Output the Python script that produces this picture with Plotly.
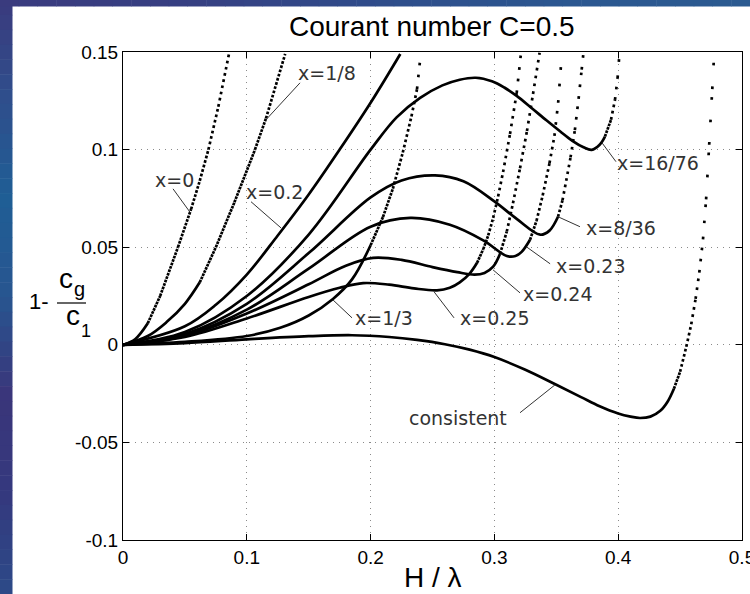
import math
import plotly.graph_objects as go

# ---------------- data ----------------
x_ticks = [0, 0.1, 0.2, 0.3, 0.4, 0.5]
x_tick_text = ["0", "0.1", "0.2", "0.3", "0.4", "0.5"]
y_ticks = [-0.1, -0.05, 0, 0.05, 0.1, 0.15]
y_tick_text = ["-0.1", "-0.05", "0", "0.05", "0.1", "0.15"]

x0_h = [0, 0.01, 0.02, 0.03, 0.0444, 0.055, 0.062, 0.069, 0.077, 0.0856]
x0_v = [0, 0.003, 0.011, 0.025, 0.05, 0.0695, 0.084, 0.10, 0.122, 0.149]

x18_h = [0, 0.02, 0.035, 0.05, 0.062, 0.075, 0.09, 0.1066, 0.1155, 0.131]
x18_v = [0, 0.0045, 0.0115, 0.021, 0.032, 0.05, 0.073, 0.10, 0.116, 0.149]

x02_h = [0, 0.05, 0.075, 0.1, 0.125, 0.15, 0.175, 0.2, 0.224]
x02_v = [0, 0.0095, 0.0205, 0.036, 0.056, 0.077, 0.100, 0.124, 0.149]

x1676_h = [0, 0.05, 0.1, 0.15, 0.2, 0.221, 0.24, 0.258, 0.272, 0.285, 0.298, 0.308,
           0.318, 0.33, 0.342, 0.353, 0.363, 0.372, 0.3786, 0.385, 0.3893, 0.3942,
           0.3974, 0.3995, 0.401]
x1676_v = [0, 0.0065, 0.025, 0.0565, 0.1, 0.1165, 0.1265, 0.1329, 0.1358, 0.1368,
           0.135, 0.1318, 0.1275, 0.1213, 0.115, 0.1094, 0.1045, 0.1012, 0.0999, 0.1025,
           0.1067, 0.1153, 0.1255, 0.1366, 0.149]

x836_h = [0, 0.05, 0.1, 0.15, 0.2, 0.225, 0.252, 0.275, 0.3, 0.318, 0.337, 0.3445,
          0.3514, 0.355, 0.358, 0.3615, 0.365, 0.368, 0.3705, 0.372]
x836_v = [0, 0.0055, 0.021, 0.047, 0.0755, 0.0842, 0.0868, 0.0838, 0.0735, 0.0645,
          0.0564, 0.0585, 0.0656, 0.074, 0.084, 0.096, 0.11, 0.126, 0.141, 0.15]

x023_h = [0, 0.05, 0.1, 0.15, 0.2, 0.232, 0.264, 0.291, 0.310, 0.317, 0.322, 0.3288,
          0.334, 0.339, 0.3445, 0.3485, 0.3515, 0.3545]
x023_v = [0, 0.005, 0.018, 0.039, 0.0605, 0.065, 0.0615, 0.0535, 0.0455, 0.0455, 0.0476,
          0.0538, 0.0635, 0.0765, 0.093, 0.107, 0.124, 0.149]

x024_h = [0, 0.05, 0.1, 0.15, 0.18, 0.202, 0.225, 0.25, 0.27, 0.284, 0.292, 0.299,
          0.3045, 0.31, 0.315, 0.3207, 0.3263, 0.3312, 0.3365]
x024_v = [0, 0.0045, 0.016, 0.031, 0.0405, 0.0445, 0.0435, 0.0398, 0.0372, 0.0359,
          0.0368, 0.040, 0.0465, 0.058, 0.0725, 0.0905, 0.1095, 0.1285, 0.1496]

x025_h = [0, 0.05, 0.1, 0.15, 0.175, 0.194, 0.215, 0.235, 0.2536, 0.264, 0.272, 0.280,
          0.286, 0.291, 0.295, 0.299, 0.303, 0.307, 0.3126, 0.318, 0.3215]
x025_v = [0, 0.004, 0.0135, 0.0245, 0.0292, 0.0316, 0.0308, 0.0289, 0.0279, 0.0292,
          0.032, 0.0365, 0.042, 0.049, 0.056, 0.065, 0.076, 0.0885, 0.108, 0.129, 0.1496]

x13_h = [0, 0.05, 0.1, 0.127, 0.15, 0.1696, 0.185, 0.2, 0.21, 0.218, 0.226, 0.233,
         0.2375, 0.2405]
x13_v = [0, 0.0015, 0.0045, 0.0087, 0.015, 0.0235, 0.0335, 0.051, 0.0655, 0.08, 0.0985,
         0.117, 0.131, 0.149]

cons_h = [0, 0.05, 0.1, 0.15, 0.185, 0.215, 0.2375, 0.26, 0.28, 0.3, 0.325, 0.35, 0.37,
          0.385, 0.4, 0.41, 0.4176, 0.426, 0.434, 0.44, 0.445, 0.45, 0.455, 0.459, 0.4625,
          0.4655, 0.4685, 0.471, 0.4735, 0.476, 0.4775]
cons_v = [0, 0.0009, 0.0028, 0.0044, 0.0049, 0.004, 0.0025, 0.0003, -0.0025, -0.0063,
          -0.0128, -0.0205, -0.0268, -0.0315, -0.0352, -0.0368, -0.0375, -0.0368, -0.0338,
          -0.029, -0.0225, -0.0138, -0.001, 0.0105, 0.0235, 0.037, 0.054, 0.0745, 0.1025,
          0.131, 0.149]

label_text = ["x=0", "x=1/8", "x=0.2", "x=1/3", "x=0.25", "x=0.24", "x=0.23",
              "x=8/36", "x=16/76", "consistent"]

# ---------------- layout geometry ----------------
W, H = 750, 594
L, R, T, B = 123, 742, 52, 540
XR = [0, 0.5]
YR = [-0.1, 0.15]
SX = (R - L) / (XR[1] - XR[0])
SY = (B - T) / (YR[1] - YR[0])


def pxx(p):
    return (p - L) / (R - L)


def pxy(p):
    return (B - p) / (B - T)


fig = go.Figure()

DX_PX = 1.25
DOT = 2.7
LW = 2.7


def add_curve(h, v):
    n = len(h)
    run_h, run_v = [h[0]], [v[0]]

    def flush():
        if len(run_h) > 1:
            fig.add_trace(go.Scatter(x=list(run_h), y=list(run_v), mode="lines",
                                     line=dict(color="black", width=LW, shape="spline",
                                               smoothing=1.0),
                                     hoverinfo="skip", showlegend=False))

    for i in range(n - 1):
        dxp = (h[i + 1] - h[i]) * SX
        dyp = (v[i + 1] - v[i]) * SY
        slope = abs(dyp / dxp) if dxp else 100
        period = DX_PX * math.sqrt(1 + slope * slope)
        if period <= 3.0:
            run_h.append(h[i + 1])
            run_v.append(v[i + 1])
        else:
            flush()
            run_h, run_v = [h[i + 1]], [v[i + 1]]
            gap = max(period - DOT, 0.8)
            fig.add_trace(go.Scatter(x=[h[i], h[i + 1]], y=[v[i], v[i + 1]], mode="lines",
                                     line=dict(color="black", width=LW,
                                               dash=f"{DOT}px,{gap:.2f}px"),
                                     hoverinfo="skip", showlegend=False))
    flush()


for hh, vv in [(cons_h, cons_v), (x13_h, x13_v), (x025_h, x025_v), (x024_h, x024_v),
               (x023_h, x023_v), (x836_h, x836_v), (x1676_h, x1676_v), (x02_h, x02_v),
               (x18_h, x18_v), (x0_h, x0_v)]:
    add_curve(hh, vv)

# ---------------- labels with leader lines ----------------
label_pos = [(174, 180), (327, 73), (274, 192), (384, 318), (494, 318), (557, 294),
             (590, 266), (621, 228), (658, 163), (458, 418)]
leaders = [((0.0404, 0.0799), (0.0545, 0.0676)),
           ((0.143, 0.1342), (0.1155, 0.1153)),
           ((0.1034, 0.0733), (0.1276, 0.0599)),
           ((0.185, 0.0138), (0.1696, 0.023)),
           ((0.2674, 0.0138), (0.2512, 0.0272)),
           ((0.3207, 0.0266), (0.2989, 0.0384)),
           ((0.345, 0.0415), (0.3263, 0.0500)),
           ((0.3691, 0.0605), (0.3514, 0.0656)),
           ((0.3982, 0.0938), (0.3869, 0.1035)),
           ((0.3207, -0.0348), (0.349, -0.0205))]

shapes = []
annotations = []


def hex2rgb(c):
    return tuple(int(c[i:i + 2], 16) for i in (1, 3, 5))


def blend(stops, t):
    k = min(int(t * (len(stops) - 1)), len(stops) - 2)
    f = t * (len(stops) - 1) - k
    a, b = hex2rgb(stops[k]), hex2rgb(stops[k + 1])
    return "rgb(%d,%d,%d)" % tuple(round(a[j] + (b[j] - a[j]) * f) for j in range(3))


# blue frame (gradient approximated by thin bands) around the white sheet
left_stops = ["#3a3b7e", "#2f4e8c", "#1f5e95", "#285590", "#3a357a", "#34397e", "#2c4a88"]
NB = 40
for i in range(NB):
    y0, y1 = H * i / NB, H * (i + 1) / NB + 0.5
    shapes.append(dict(type="rect", xref="paper", yref="paper", layer="below",
                       x0=pxx(0), x1=pxx(12.5), y0=pxy(y1), y1=pxy(y0),
                       fillcolor=blend(left_stops, (i + 0.5) / NB), line=dict(width=0)))
top_stops = ["#3a3b7e", "#363f82", "#2f4c8a", "#2b5790", "#2b5a90"]
for i in range(NB):
    x0, x1 = W * i / NB, W * (i + 1) / NB + 0.5
    shapes.append(dict(type="rect", xref="paper", yref="paper", layer="below",
                       x0=pxx(x0), x1=pxx(x1), y0=pxy(6.5), y1=pxy(0),
                       fillcolor=blend(top_stops, (i + 0.5) / NB), line=dict(width=0)))

for (a, b) in leaders:
    shapes.append(dict(type="line", xref="x", yref="y", x0=a[0], y0=a[1], x1=b[0], y1=b[1],
                       line=dict(color="#333333", width=1)))

for txt, (cx, cy) in zip(label_text, label_pos):
    annotations.append(dict(text=txt, xref="paper", yref="paper", x=pxx(cx), y=pxy(cy),
                            xanchor="center", yanchor="middle", showarrow=False,
                            font=dict(family="DejaVu Sans", size=19, color="#333333")))

# title
annotations.append(dict(text="Courant number C=0.5", xref="paper", yref="paper",
                        x=pxx(432), y=pxy(27), xanchor="center", yanchor="middle",
                        showarrow=False,
                        font=dict(family="Liberation Sans, Arial", size=28, color="black")))
# x label
annotations.append(dict(text="H / λ", xref="paper", yref="paper",
                        x=pxx(433), y=pxy(577), xanchor="center", yanchor="middle",
                        showarrow=False,
                        font=dict(family="Liberation Sans, Arial", size=28, color="black")))
# y label: 1- c_g / c_1
ylab_font = dict(family="Liberation Sans, Arial", color="black")
ylab = [
    dict(text="1-", x=pxx(39), y=pxy(301), font=dict(size=22, **ylab_font)),
    dict(text="c", x=pxx(65.5), y=pxy(278), font=dict(size=28, **ylab_font)),
    dict(text="g", x=pxx(79), y=pxy(289), font=dict(size=20, **ylab_font)),
    dict(text="c", x=pxx(73), y=pxy(316), font=dict(size=28, **ylab_font)),
    dict(text="1", x=pxx(86), y=pxy(331), font=dict(size=18, **ylab_font)),
]
for a in ylab:
    a.update(xref="paper", yref="paper", xanchor="center", yanchor="middle", showarrow=False)
annotations += ylab
shapes.append(dict(type="line", xref="paper", yref="paper", x0=pxx(57), x1=pxx(86),
                   y0=pxy(303), y1=pxy(303), line=dict(color="black", width=1.2)))

axis_common = dict(showline=True, linecolor="black", linewidth=1, mirror="ticks",
                   ticks="inside", ticklen=6, tickcolor="black", tickwidth=1,
                   showgrid=True, gridcolor="#8a8a8a", gridwidth=1, griddash="1px,5px",
                   zeroline=False, fixedrange=True, ticklabeloverflow="allow",
                   automargin=False,
                   tickfont=dict(family="Liberation Sans, Arial", size=19, color="black"))

fig.update_layout(
    width=W, height=H,
    margin=dict(l=L, r=W - R, t=T, b=H - B, pad=0, autoexpand=False),
    paper_bgcolor="white", plot_bgcolor="white",
    showlegend=False,
    xaxis=dict(range=XR, tickvals=x_ticks, ticktext=x_tick_text, ticklabelstandoff=0,
               **axis_common),
    yaxis=dict(range=YR, tickvals=y_ticks, ticktext=y_tick_text, ticklabelstandoff=0,
               **axis_common),
    shapes=shapes,
    annotations=annotations,
)

fig.write_html("out.html")
